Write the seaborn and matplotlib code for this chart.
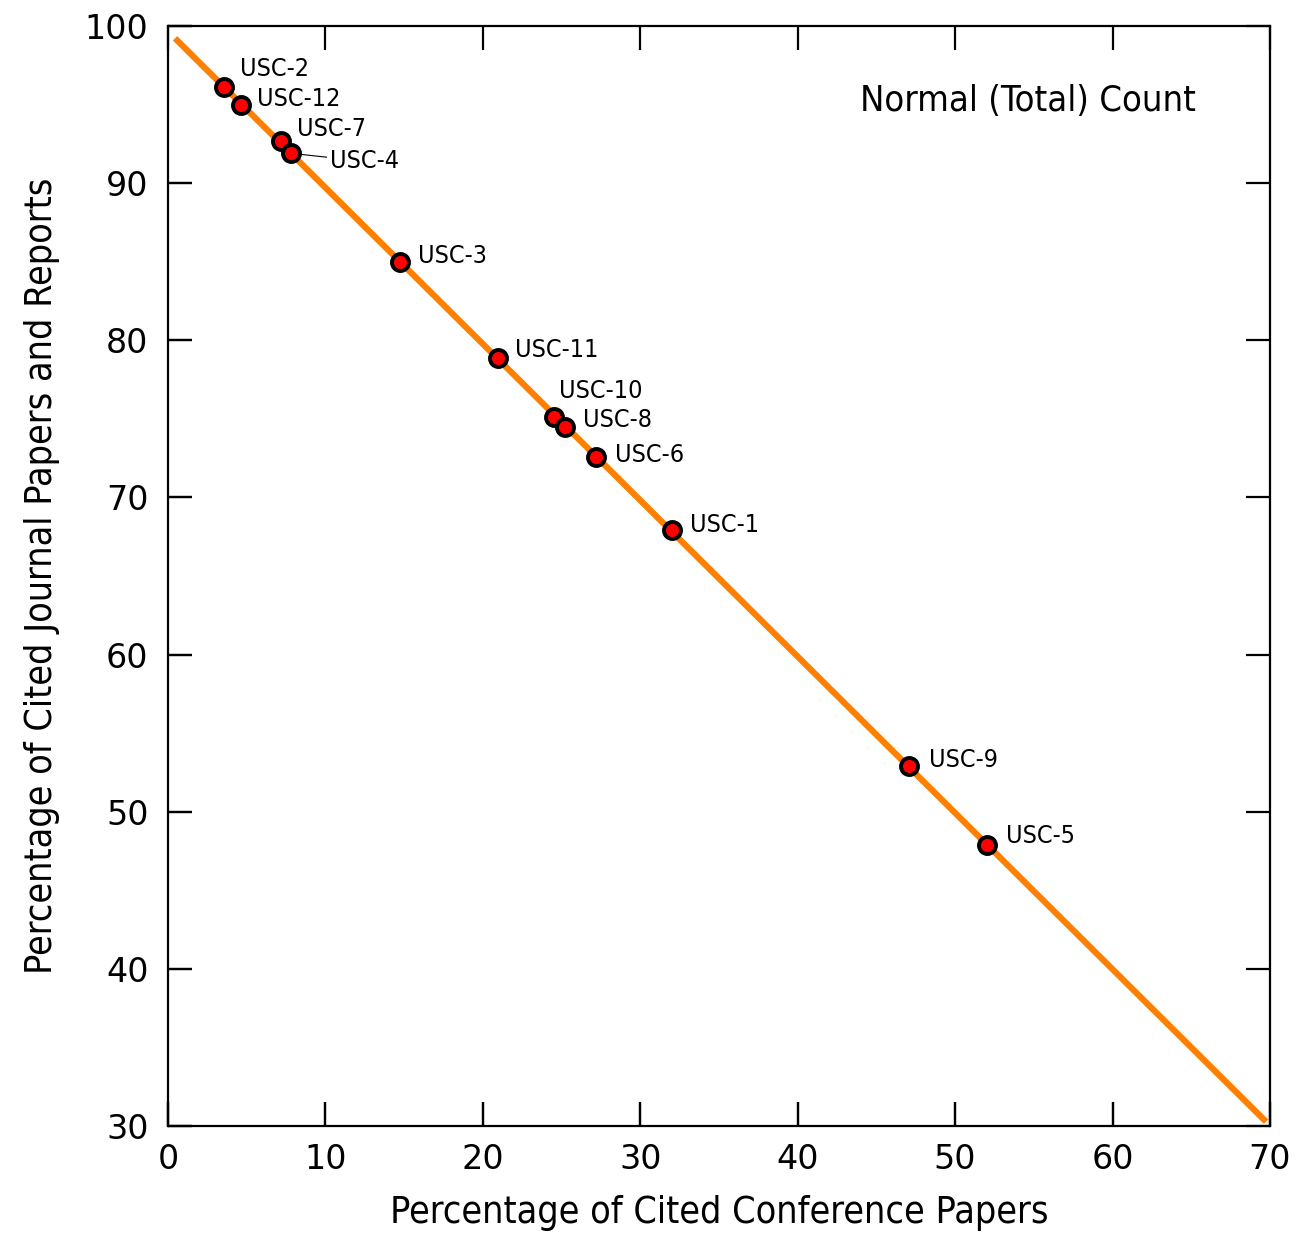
import numpy as np
import pandas as pd
import matplotlib
matplotlib.use("Agg")
import matplotlib.pyplot as plt
import seaborn as sns

labels = ["USC-2", "USC-12", "USC-7", "USC-4", "USC-3", "USC-11",
          "USC-10", "USC-8", "USC-6", "USC-1", "USC-9", "USC-5"]
conference = [3.56, 4.64, 7.18, 7.81, 14.74, 20.97, 24.52, 25.2, 27.2, 32.0, 47.1, 52.0]
journal = [96.1, 95.0, 92.7, 91.9, 84.98, 78.87, 75.1, 74.5, 72.6, 67.9, 52.9, 47.9]
# label offsets in pixels (dx, dy up)
offsets_px = [(16, 18), (16, 6), (16, 12), (39, -8), (18, 6), (17, 8),
              (5, 26), (18, 7), (19, 2), (18, 5), (20, 6), (19, 9)]
xticks = [0, 10, 20, 30, 40, 50, 60, 70]
yticks = [30, 40, 50, 60, 70, 80, 90, 100]

df = pd.DataFrame({"conf": conference, "jour": journal, "label": labels})

sns.set_theme(style="white")
plt.rcParams["font.family"] = ["DejaVu Sans"]
plt.rcParams["text.color"] = "black"
plt.rcParams["axes.labelcolor"] = "black"

fig = plt.figure(figsize=(13.04, 12.45), dpi=100)
ax = fig.add_axes([0.1288, 0.0956, 0.9739 - 0.1288, 0.9791 - 0.0956])
ax.set_xlim(0, 70)
ax.set_ylim(30, 100)

# fit line
slope, intercept = np.polyfit(df["conf"], df["jour"], 1)
xs = np.array([0.45, 69.75])
ax.plot(xs, slope * xs + intercept, color="#FF8000", lw=4.5, solid_capstyle="butt", zorder=2)

sns.scatterplot(data=df, x="conf", y="jour", ax=ax, s=150, color="#FF0000",
                edgecolor="black", linewidth=2.8, zorder=3, legend=False)

cond = dict(family="DejaVu Sans", fontstretch="condensed")
for (lab, x, y, (dx, dy)) in zip(labels, conference, journal, offsets_px):
    kw = {}
    if lab == "USC-4":
        kw["arrowprops"] = dict(arrowstyle="-", color="black", lw=0.8,
                                shrinkA=0, shrinkB=6)
    ax.annotate(lab, (x, y), xytext=(dx * 0.72, dy * 0.72), textcoords="offset points",
                ha="left", va="center", fontsize=18, color="black", **cond, **kw)

ax.text(0.933, 0.932, "Normal (Total) Count", transform=ax.transAxes, ha="right",
        va="center", fontsize=26, color="black", **cond)

ax.set_xlabel("Percentage of Cited Conference Papers", fontsize=27,
              labelpad=14, **cond)
ax.set_ylabel("Percentage of Cited Journal Papers and Reports", fontsize=27,
              labelpad=18, **cond)

for sp in ax.spines.values():
    sp.set_color("black")
    sp.set_linewidth(1.6)

ax.set_xlim(0, 70)
ax.set_ylim(30, 100)
ax.set_xticks(xticks)
ax.set_yticks(yticks)
ax.tick_params(axis="both", which="major", direction="in", length=17, width=1.6,
               colors="black", labelsize=24, bottom=True, top=True, left=True,
               right=True)
ax.tick_params(axis="x", pad=12)
ax.tick_params(axis="y", pad=14)

# inward tick segments on the bottom and left edges (line segments, axis transforms)
tick_frac_x = 23.6 / (fig.get_figheight() * fig.dpi * (0.9791 - 0.0956))
tick_frac_y = 23.6 / (fig.get_figwidth() * fig.dpi * (0.9739 - 0.1288))
ax.vlines(xticks, 0, tick_frac_x, transform=ax.get_xaxis_transform(),
          colors="black", linewidth=1.6, clip_on=False, zorder=10)
ax.hlines(yticks, 0, tick_frac_y, transform=ax.get_yaxis_transform(),
          colors="black", linewidth=1.6, clip_on=False, zorder=10)

fig.savefig("out.png", dpi=100)
